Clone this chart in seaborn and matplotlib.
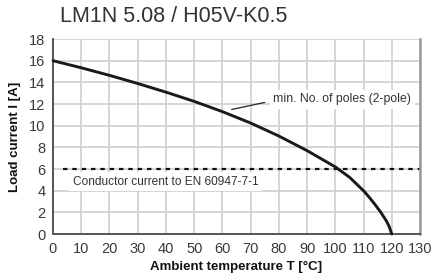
import matplotlib
matplotlib.use("Agg")
import matplotlib.pyplot as plt
import pandas as pd
import seaborn as sns

# values
temperature = [0, 10, 20, 30, 40, 50, 60, 70, 80, 90, 100, 105, 110, 112, 114, 116, 118, 119, 120]
load_current = [16.0, 15.35, 14.65, 13.9, 13.1, 12.25, 11.3, 10.25, 9.05, 7.7, 6.2, 5.25, 4.0, 3.4, 2.75, 2.05, 1.25, 0.75, 0.0]

conductor_limit = 6
dash_start = 3.5

title = "LM1N 5.08 / H05V-K0.5"
curve_label = "min. No. of poles (2-pole)"
limit_label = "Conductor current to EN 60947-7-1"

df = pd.DataFrame({"T": temperature, "I": load_current})

sns.set_style("white")
plt.rcParams["font.family"] = ["Liberation Sans", "DejaVu Sans"]

fig = plt.figure(figsize=(4.33, 2.77), dpi=100)
ax = fig.add_axes([0.1224, 0.155, 0.8476, 0.704])

ax.set_xlim(0, 130)
ax.set_ylim(0, 18)
ax.set_xticks(range(0, 131, 10))
ax.set_yticks(range(0, 19, 2))
ax.grid(True, color="#d2d2d2", linewidth=1.3)
ax.set_axisbelow(True)

# dashed limit line
ax.plot([dash_start, 130], [conductor_limit, conductor_limit], color="#111111",
        linewidth=1.6, linestyle=(0, (2, 2.2)), zorder=2)

sns.lineplot(data=df, x="T", y="I", ax=ax, color="#1a1a1a", linewidth=2.1,
             zorder=3, clip_on=False)

ax.text(7, 4.85, limit_label, fontsize=8.6, color="#333333", va="center", ha="left",
        bbox=dict(facecolor="white", edgecolor="none", pad=2.5), zorder=4)
ax.text(78, 12.45, curve_label, fontsize=8.8, color="#333333", va="center", ha="left",
        bbox=dict(facecolor="white", edgecolor="none", pad=2.5), zorder=4)
ax.plot([63.3, 75], [11.5, 12.15], color="#222222", linewidth=0.9, zorder=4)

for side in ["left", "bottom"]:
    ax.spines[side].set_color("#555555")
    ax.spines[side].set_linewidth(1.4)
ax.spines["right"].set_color("#999999")
ax.spines["right"].set_linewidth(1.8)
ax.spines["top"].set_visible(False)

ax.tick_params(axis="both", direction="out", length=4, width=1, color="#555555",
               labelsize=10.5, labelcolor="#3a3a3a", pad=1.5)
ax.tick_params(axis="x", pad=2)

ax.set_xlabel("Ambient temperature T [°C]", fontsize=9.5, fontweight="bold",
              color="#111111", labelpad=3)
ax.set_ylabel("Load current I [A]", fontsize=9.5, fontweight="bold",
              color="#111111", labelpad=6)

fig.text(0.139, 0.94, title, fontsize=15.5, color="#333333", va="center", ha="left")

fig.savefig("out.png", dpi=100)
